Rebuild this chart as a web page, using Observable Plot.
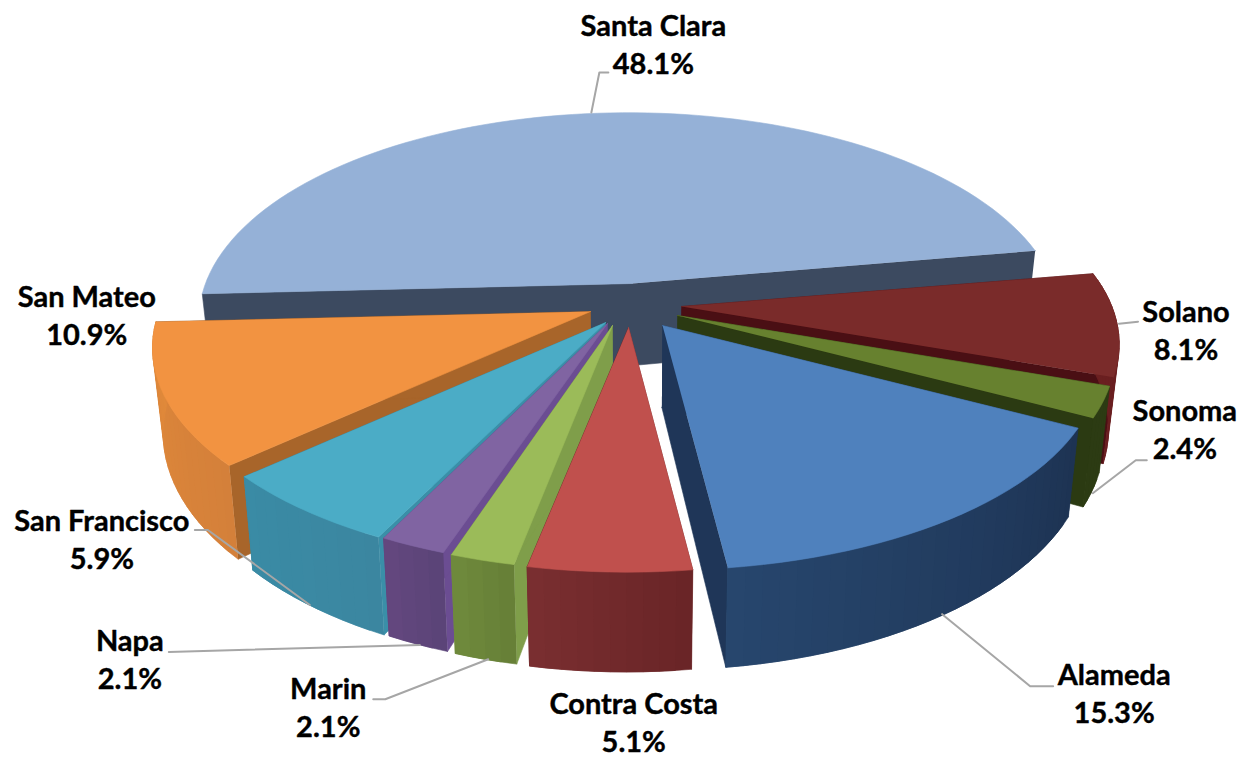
<!DOCTYPE html>
<html>
<head>
<meta charset="utf-8">
<style>html,body{margin:0;padding:0;background:#fff}svg{display:block}</style>
<script src="https://cdn.jsdelivr.net/npm/d3@7"></script>
<script src="https://cdn.jsdelivr.net/npm/@observablehq/plot@0.6"></script>
</head>
<body>
<div id="chart"></div>
<script>
// Data, clockwise from the right-hand edge of Santa Clara
const counties = ["Solano","Sonoma","Alameda","Contra Costa","Marin","Napa","San Francisco","San Mateo","Santa Clara"];
const shares = [8.1,2.4,15.3,5.1,2.1,2.1,5.9,10.9,48.1];

// Styles
const topColors = ["#7A2B2A","#67812F","#4F81BD","#C0504D","#9BBB59","#8064A2","#4BACC6","#F29341","#95B1D7"];
const cutColors = ["#4A0F14","#2B3A12","#1F3658","#6E2728","#7F9E4A","#6B4D92","#3A8FA8","#A8652A","#3C4A60"];
const wallStart = ["#6A1F20","#2C3B13","#1D3353","#692426","#667E36","#5A4377","#3B86A0","#D4803A","#3F4E63"];
const wallEnd   = ["#6A1F20","#2C3B13","#27466D","#7A2F30","#6F8A3D","#64487F","#3A8BA5","#E0893A","#3F4E63"];

// Layout: explosion of each slice, radius factor, label offset from the rim midpoint, leader path offsets
const layout = {
  "Solano":        {ex:[46,23],  rs:1.012, label:[69,5],     leader:[[2,0],[21,-2]]},
  "Sonoma":        {ex:[42,32],  rs:1.012, label:[82,26],    leader:[[-10,91],[33,58],[44,58]]},
  "Alameda":       {ex:[27,42],  rs:1.012, label:[164,173],  leader:[[-8,95],[80,167],[103,167]]},
  "Contra Costa":  {ex:[-7,44],  rs:1,     label:[24,149],   leader:[]},
  "Marin":         {ex:[-23,42], rs:0.965, label:[-154,146], leader:[[6,99],[-97,139],[-109,139]]},
  "Napa":          {ex:[-28,40], rs:0.985, label:[-283,112], leader:[[7,99],[-244,106]]},
  "San Francisco": {ex:[-30,39], rs:1,     label:[-202,28],  leader:[[6,95],[-96,20],[-109,20]]},
  "San Mateo":     {ex:[-45,28], rs:1,     label:[-77,-81],  leader:[]},
  "Santa Clara":   {ex:[-3,0],   rs:0.99,  label:[62,-71],   leader:[[0,-1],[8,-41],[17,-41]]}
};
const drawOrder = ["Santa Clara","Solano","Sonoma","Alameda","San Mateo","San Francisco","Napa","Marin","Contra Costa"];

// Perspective pie geometry
const W = 1250, H = 758;
const cx = 635, cy = 283, r = 428, k = 201, p = 0.178, shear = 15, tilt = 8, depth = 82, conv = 0.022, startDeg = -12;
const rad = d => d * Math.PI / 180;
function rim(deg, ex, rs) {
  const X = Math.cos(rad(deg)), Y = Math.sin(rad(deg)), s = 1 / (1 - p * Y);
  return {x: cx + ex[0] + r * rs * X * s - shear * Y * s, y: cy + ex[1] + (k * Y + tilt * X) * s, s};
}
const drop = q => ({x: q.x + (cx - q.x) * conv, y: q.y + depth * q.s});

let cum = startDeg;
const slices = counties.map((name, i) => {
  const a0 = cum, a1 = cum + shares[i] * 3.6;
  cum = a1;
  return {name, i, a0, a1, share: shares[i], ...layout[name]};
});

const rows = [];
let pid = 0;
function poly(color, pts) {
  const id = pid++;
  for (const q of pts) rows.push({id, color, x: q.x, y: q.y});
}
for (const name of drawOrder) {
  const d = slices.find(c => c.name === name);
  const apex = {x: cx + d.ex[0], y: cy + d.ex[1], s: 1};
  const arc = [];
  const n = Math.max(2, Math.ceil((d.a1 - d.a0) / 2));
  for (let j = 0; j <= n; j++) arc.push(rim(d.a0 + (d.a1 - d.a0) * j / n, d.ex, d.rs));
  const first = arc[0], last = arc[n];
  if (d.a1 - d.a0 > 90) {
    // a wide slice: one outline, so no seam shows at the centre
    poly(cutColors[d.i], [last, apex, first, drop(first), drop(apex), drop(last)]);
  } else {
    poly(cutColors[d.i], [apex, first, drop(first), drop(apex)]);
    poly(cutColors[d.i], [apex, last, drop(last), drop(apex)]);
  }
  const mix = d3.interpolateRgb(wallStart[d.i], wallEnd[d.i]);
  for (let j = 0; j < n; j++) {
    // the back of the rim cannot be seen
    if (d.a1 - d.a0 > 90) continue;
    // each band overlaps the next to hide antialiasing seams
    const e = Math.min(n, j + 2);
    poly(mix((j + 0.5) / n), [...arc.slice(j, e + 1), ...arc.slice(j, e + 1).reverse().map(drop)]);
  }
  poly(topColors[d.i], [apex, ...arc]);
}

const labels = [], leaders = [];
for (const d of slices) {
  const m = rim((d.a0 + d.a1) / 2, d.ex, d.rs);
  labels.push({text: `${d.name}\n${d.share.toFixed(1)}%`, x: m.x + d.label[0], y: m.y + d.label[1]});
  for (const o of d.leader) leaders.push({name: d.name, x: m.x + o[0], y: m.y + o[1]});
}

const chart = Plot.plot({
  width: W, height: H, margin: 0,
  x: {domain: [0, W], range: [0, W], axis: null},
  y: {domain: [0, H], range: [0, H], axis: null},
  color: {type: "identity"},
  marks: [
    Plot.line(rows, {x: "x", y: "y", z: "id", fill: "color", stroke: "color", strokeWidth: 0.6}),
    Plot.line(leaders, {x: "x", y: "y", z: "name", stroke: "#A6A6A6", strokeWidth: 2}),
    Plot.text(labels, {x: "x", y: "y", text: "text", fontFamily: "Lato", fontWeight: 700, fontSize: 29, lineHeight: 1.31, fill: "#000", stroke: "#000", strokeWidth: 0.4})
  ]
});
document.getElementById("chart").append(chart);
</script>
</body>
</html>
